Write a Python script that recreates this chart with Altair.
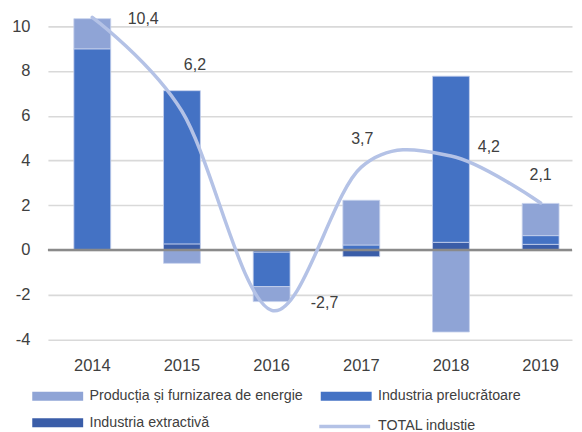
import altair as alt
import pandas as pd

# ---- data ----
years = ["2014", "2015", "2016", "2017", "2018", "2019"]
name_energie = "Producția și furnizarea de energie"
name_prelucr = "Industria prelucrătoare"
name_extract = "Industria extractivă"
name_total = "TOTAL industie"

energie = [1.35, -0.60, -0.67, 2.00, -3.67, 1.44]
prelucratoare = [8.99, 6.85, -1.54, 0.22, 7.43, 0.39]
extractiva = [0.00, 0.27, -0.10, -0.30, 0.34, 0.25]
total = [10.4, 6.2, -2.7, 3.7, 4.2, 2.1]
total_labels = ["10,4", "6,2", "-2,7", "3,7", "4,2", "2,1"]

y_ticks = [-4, -2, 0, 2, 4, 6, 8, 10]

# label offsets (pixels) as placed in the reference
label_dx = [51, 13, 53, 1, 38, 0]
label_dy = [2, -46, -7, -28, -9, -28]

# ---- styles ----
c_energie = "#8FA4D6"
c_prelucr = "#4472C4"
c_extract = "#3A5DA8"
c_total = "#B4C2E6"
txt = "#404040"
font = "Liberation Sans"

rows = []
for i, y in enumerate(years):
    rows.append({"year": y, "series": name_extract, "value": extractiva[i], "ord": 0})
    rows.append({"year": y, "series": name_prelucr, "value": prelucratoare[i], "ord": 1})
    rows.append({"year": y, "series": name_energie, "value": energie[i], "ord": 2})
bars_df = pd.DataFrame(rows)

total_df = pd.DataFrame({"year": years, "value": total, "label": total_labels,
                         "series": [name_total] * len(years)})
zero_df = pd.DataFrame({"z": [0]})

x_enc = alt.X("year:N", sort=years,
              scale=alt.Scale(domain=years, paddingInner=0.589, paddingOuter=0.2167, align=0.667),
              axis=alt.Axis(title=None, labelAngle=0, domain=False, ticks=False, grid=False,
                            labelFont=font, labelFontSize=16.5, labelColor=txt, labelPadding=18))
y_scale = alt.Scale(domain=[-4, 10.8], nice=False, zero=False)
y_axis = alt.Axis(title=None, values=y_ticks, domain=False, ticks=False, grid=True,
                  gridColor="#D9D9D9", gridWidth=1.6, labelFont=font, labelFontSize=16.5,
                  labelColor=txt, labelPadding=18, labelExpr="datum.value + ''")

bars = alt.Chart(bars_df).mark_bar(stroke="#C5D0EC", strokeWidth=0.8).encode(
    x=x_enc,
    y=alt.Y("value:Q", stack="zero", scale=y_scale, axis=y_axis),
    color=alt.Color("series:N",
                    scale=alt.Scale(domain=[name_energie, name_extract, name_prelucr],
                                    range=[c_energie, c_extract, c_prelucr]),
                    legend=alt.Legend(title=None, orient="none", legendX=-0.7, legendY=378,
                                      columns=2, symbolType="M-2.5,-0.45H2.5V0.45H-2.5Z",
                                      symbolSize=416, symbolStrokeWidth=0, labelOffset=21.3,
                                      rowPadding=8.6, columnPadding=17, labelFont=font,
                                      labelFontSize=14.3, labelColor=txt, labelLimit=400)),
    order=alt.Order("ord:Q"),
)

zero_rule = alt.Chart(zero_df).mark_rule(color="#8A8A8A", strokeWidth=2.6).encode(
    y=alt.Y("z:Q", scale=y_scale))

line = alt.Chart(total_df).mark_line(interpolate="cardinal", strokeWidth=3.5,
                                     strokeCap="round").encode(
    x=x_enc,
    y=alt.Y("value:Q", scale=y_scale),
    stroke=alt.Stroke("series:N", scale=alt.Scale(domain=[name_total], range=[c_total]),
                      legend=alt.Legend(title=None, orient="none", legendX=285.3, legendY=406.8,
                                        symbolType="M-2.5,0H2.5", symbolSize=416,
                                        symbolStrokeWidth=3.5, labelOffset=21.3,
                                        labelFont=font, labelFontSize=14.3, labelColor=txt,
                                        labelLimit=400)),
)

label_layers = []
for i, y in enumerate(years):
    label_layers.append(
        alt.Chart(total_df).transform_filter(alt.datum.year == y).mark_text(
            dx=label_dx[i], dy=label_dy[i], font=font, fontSize=16, color=txt,
            align="center", baseline="middle").encode(
            x=x_enc, y=alt.Y("value:Q", scale=y_scale), text="label:N"))

chart = alt.layer(bars, zero_rule, line, *label_layers).properties(
    width=525, height=331.6,
    padding={"left": 3, "top": 0, "right": 0, "bottom": 0},
).configure_view(stroke=None).resolve_scale(color="independent")

chart.save("out.html", embed_options={"renderer": "svg", "actions": False})
